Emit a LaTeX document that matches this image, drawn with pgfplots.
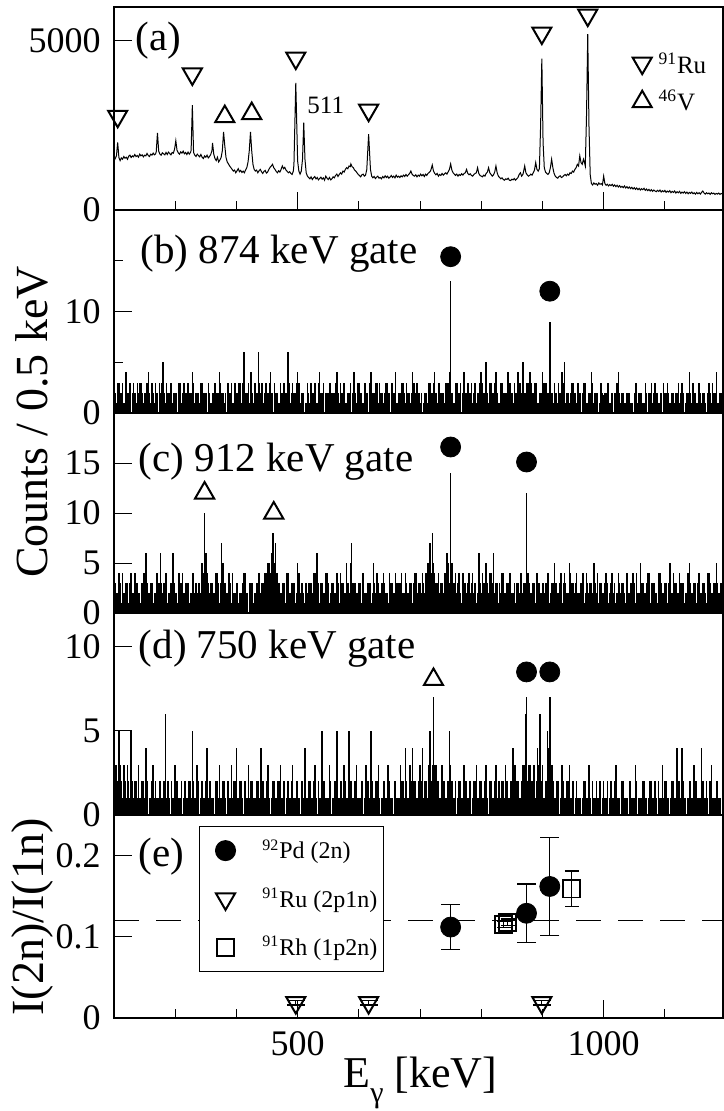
\documentclass[border=0pt]{standalone}
\usepackage{fontspec}
\setmainfont{Liberation Serif}
\usepackage{pgfplots}
\pgfplotsset{compat=1.18}
\newcommand{\plf}{\fontsize{20.5}{22}\selectfont}
\newcommand{\lgf}{\fontsize{12}{14}\selectfont}
\pgfplotsset{
  panel/.style={
    scale only axis, width=304.5pt,
    xmin=200, xmax=1195,
    axis line style={line width=1pt},
    tick align=inside, xtick pos=left, ytick pos=left,
    xtick={500,1000}, minor xtick={300,400,600,700,800,900,1100},
    xticklabels={},
    major tick length=9pt, minor tick length=4.5pt,
    every tick/.style={black, line width=0.5pt},
    tick label style={font=\fontsize{18}{19}\selectfont},
    yticklabel style={inner sep=0pt, xshift=-6.5pt},
    xticklabel style={inner sep=0pt, yshift=-6.5pt},
    /pgf/number format/assume math mode=true,
    /pgf/number format/1000 sep={},
  },
  comb/.style={black, ycomb, line width=0.75pt, forget plot},
}
\begin{document}
\begin{tikzpicture}
% ---------------- (a)
\begin{axis}[panel, at={(0,0)}, anchor=north west, height=101.5pt,
  ymin=0, ymax=6000, ytick={0,5000}]
\addplot[black, line width=0.5pt] coordinates {
(200,1450)(202,1520)(204,1600)(206,2000)(208,1550)(210,1460)(212,1540)(214,1500)(216,1580)(218,1530)(220,1560)(222,1500)(224,1590)(226,1620)(228,1550)(230,1600)(232,1570)(234,1640)(236,1580)(238,1610)(240,1560)(242,1650)(244,1600)(246,1630)(248,1570)(250,1620)(252,1600)(254,1670)(256,1610)(258,1580)(260,1650)(262,1620)(264,1680)(266,1630)(268,1660)(269,1720)(271,2280)(273,1740)(275,1650)(277,1620)(279,1690)(281,1660)(283,1630)(285,1700)(287,1640)(289,1710)(291,1670)(293,1630)(295,1700)(297,1680)(299,1800)(301,2050)(303,1760)(305,1690)(307,1650)(309,1720)(311,1680)(313,1740)(315,1660)(317,1700)(319,1640)(321,1710)(323,1650)(325,1700)(326,1760)(328,3100)(330,1700)(332,1620)(334,1580)(336,1650)(338,1610)(340,1570)(342,1640)(344,1560)(346,1520)(348,1600)(350,1560)(352,1620)(354,1540)(356,1580)(358,1640)(360,1750)(361,1980)(363,1650)(365,1520)(367,1460)(369,1560)(371,1420)(373,1480)(375,1550)(377,1750)(379,2310)(381,1900)(383,1550)(385,1420)(387,1360)(389,1300)(391,1250)(393,1200)(395,1150)(397,1180)(399,1100)(401,1160)(403,1220)(405,1130)(407,1170)(409,1110)(411,1150)(413,1100)(415,1180)(417,1250)(419,1420)(421,1750)(423,2310)(425,1750)(427,1350)(429,1200)(431,1150)(433,1180)(435,1100)(437,1160)(439,1200)(441,1130)(443,1080)(445,1140)(447,1170)(449,1090)(451,1120)(453,1200)(455,1260)(457,1300)(459,1350)(461,1250)(463,1200)(465,1140)(467,1100)(469,1160)(471,1120)(473,1200)(475,1300)(477,1220)(479,1260)(481,1180)(483,1140)(485,1100)(487,1130)(489,1080)(491,1050)(493,1150)(494,1350)(497,3760)(500,1450)(502,1150)(504,1060)(506,1150)(508,1500)(510,2580)(512,1500)(514,1100)(516,1000)(518,960)(520,920)(522,980)(524,900)(526,950)(528,990)(530,920)(532,960)(534,890)(536,930)(538,970)(540,910)(542,950)(544,880)(546,1000)(548,940)(550,900)(552,960)(554,890)(556,920)(558,980)(560,950)(562,1020)(564,1060)(566,990)(568,1050)(570,1100)(572,1060)(574,1150)(576,1120)(578,1200)(580,1250)(582,1220)(584,1300)(586,1280)(587,1360)(589,1280)(591,1250)(593,1180)(595,1150)(597,1100)(599,1050)(601,1020)(603,980)(605,1040)(607,1060)(609,1000)(611,1030)(613,1200)(616,2240)(619,1200)(621,1000)(623,950)(625,990)(627,930)(629,970)(631,1000)(633,940)(635,960)(637,920)(639,990)(641,950)(643,1010)(645,960)(647,1000)(649,940)(651,970)(653,1020)(655,960)(657,1000)(659,950)(661,1030)(663,970)(665,1000)(667,960)(669,1010)(671,980)(673,1030)(675,990)(677,1050)(679,1000)(681,1040)(683,1080)(685,1150)(687,1060)(689,1020)(691,1000)(693,1040)(695,980)(697,1030)(699,1000)(701,1060)(703,1010)(705,1050)(707,990)(709,1060)(711,1020)(713,1080)(715,1110)(717,1150)(718,1200)(720,1330)(722,1150)(724,1080)(726,1040)(728,1080)(730,1000)(732,1050)(734,1020)(736,1080)(738,1030)(740,1070)(742,1100)(744,1060)(746,1130)(748,1200)(750,1360)(752,1180)(754,1100)(756,1060)(758,1020)(760,1060)(762,1000)(764,1050)(766,1020)(768,1070)(770,1030)(772,1080)(774,1100)(776,1200)(778,1080)(780,1040)(782,1070)(784,1020)(786,1000)(788,1050)(790,1080)(792,1100)(794,1250)(796,1080)(798,1020)(800,1000)(802,980)(804,1030)(806,1000)(808,1080)(810,1120)(812,1250)(814,1100)(816,1050)(818,1000)(820,1040)(822,1120)(824,1300)(826,1100)(828,1000)(830,960)(832,920)(834,950)(836,900)(838,880)(840,920)(842,900)(844,940)(846,880)(848,870)(850,910)(852,890)(854,930)(856,880)(858,920)(860,960)(862,1050)(864,1100)(866,1000)(868,1050)(869,1120)(871,1300)(873,1100)(875,1040)(877,1000)(879,1020)(881,1060)(883,1030)(885,1100)(887,1180)(889,1400)(891,1200)(893,1150)(895,1220)(897,2500)(899,4470)(901,2000)(903,1250)(905,1120)(907,1080)(909,1050)(911,1100)(913,1250)(915,1500)(917,1250)(919,1080)(921,1000)(923,960)(925,940)(927,990)(929,1010)(931,960)(933,980)(935,1020)(937,1050)(939,1010)(941,1060)(943,1030)(945,1100)(947,1080)(949,1150)(951,1120)(953,1200)(955,1250)(957,1350)(959,1300)(961,1600)(963,1400)(965,1350)(967,1500)(969,1380)(970,1300)(972,2800)(974,5200)(976,2500)(978,1050)(980,780)(982,740)(984,800)(986,760)(988,780)(990,730)(992,800)(994,760)(996,780)(998,740)(1000,1000)(1002,780)(1004,730)(1006,760)(1008,710)(1010,750)(1012,720)(1014,760)(1016,700)(1018,740)(1020,690)(1022,730)(1024,680)(1026,720)(1028,670)(1030,700)(1032,660)(1034,710)(1036,650)(1038,690)(1040,640)(1042,680)(1044,630)(1046,670)(1048,620)(1050,660)(1052,610)(1054,650)(1056,600)(1058,640)(1060,590)(1062,630)(1064,600)(1066,640)(1068,580)(1070,620)(1072,570)(1074,610)(1076,560)(1078,600)(1080,550)(1082,590)(1084,560)(1086,540)(1088,580)(1090,550)(1092,590)(1094,530)(1096,570)(1098,540)(1100,580)(1102,520)(1104,560)(1106,530)(1108,570)(1110,510)(1112,550)(1114,520)(1116,560)(1118,500)(1120,540)(1122,510)(1124,550)(1126,490)(1128,530)(1130,500)(1132,540)(1134,490)(1136,530)(1138,480)(1140,520)(1142,490)(1144,530)(1146,480)(1148,510)(1150,470)(1152,520)(1154,480)(1156,510)(1158,470)(1160,520)(1162,560)(1164,500)(1166,470)(1168,510)(1170,480)(1172,500)(1174,460)(1176,510)(1178,480)(1180,500)(1182,460)(1184,490)(1186,470)(1188,500)(1190,460)(1192,490)(1194,470)(1196,480)};
\addplot[black, only marks, mark=triangle, mark size=5.5pt, line width=1pt, mark options={rotate=180}]
  coordinates {(206,2770)(328,4020)(497,4490)(616,2950)(899,5230)(974,5760)(1063,4340)};
\addplot[black, only marks, mark=triangle, mark size=5.5pt, line width=1pt]
  coordinates {(381,2760)(425,2850)(1063,3200)};
\node[anchor=west, inner sep=0pt, font=\fontsize{12.5}{14}\selectfont] at (axis cs:1089,4336) {\textsuperscript{91}Ru};
\node[anchor=west, inner sep=0pt, font=\fontsize{12.5}{14}\selectfont] at (axis cs:1089,3241) {\textsuperscript{46}V};
\node[font=\fontsize{12.5}{14}\selectfont] at (axis cs:546,3100) {511};
\node[anchor=west, inner sep=0pt, font=\plf] at (axis cs:235,5000) {(a)};
\end{axis}
% ---------------- (b)
\begin{axis}[panel, at={(0,-101.5pt)}, anchor=north west, height=101.5pt,
  ymin=0, ymax=20, ytick={0,10}, minor ytick={5,15}]
\addplot[comb] coordinates {
(200,2)(204,1)(208,3)(212,2)(216,1)(220,4)(224,2)(228,0)(232,3)(236,1)
(240,2)(244,3)(248,1)(252,2)(256,4)(260,1)(264,2)(268,3)(272,0)(276,2)
(280,5)(284,1)(288,2)(292,3)(296,1)(300,2)(304,0)(308,3)(312,2)(316,1)
(320,3)(324,2)(328,4)(332,1)(336,2)(340,1)(344,3)(348,2)(352,0)(356,2)
(360,1)(364,3)(368,2)(372,4)(376,2)(380,1)(384,0)(388,2)(392,3)(396,1)
(400,2)(404,3)(408,1)(412,6)(416,2)(420,3)(424,4)(428,1)(432,2)(436,6)
(440,2)(444,1)(448,3)(452,2)(456,4)(460,0)(464,2)(468,1)(472,3)(476,2)
(480,2)(484,6)(488,1)(492,3)(496,2)(500,4)(504,1)(508,2)(512,0)(516,3)
(520,1)(524,2)(528,3)(532,1)(536,4)(540,2)(544,0)(548,1)(552,3)(556,2)
(560,2)(564,4)(568,1)(572,2)(576,3)(580,1)(584,2)(588,0)(592,4)(596,1)
(600,3)(604,2)(608,1)(612,2)(616,0)(620,4)(624,2)(628,3)(632,1)(636,2)
(640,1)(644,3)(648,2)(652,0)(656,2)(660,4)(664,1)(668,2)(672,3)(676,1)
(680,2)(684,1)(688,4)(692,2)(696,3)(700,1)(704,0)(708,2)(712,1)(716,3)
(720,2)(724,4)(728,1)(732,3)(736,2)(740,1)(744,3)(748,4)(752,2)(756,1)
(760,3)(764,2)(768,0)(772,4)(776,2)(780,1)(784,3)(788,2)(792,1)(796,2)
(800,4)(804,2)(808,5)(812,1)(816,3)(820,2)(824,4)(828,1)(832,3)(836,2)
(840,2)(844,4)(848,3)(852,1)(856,2)(860,4)(864,3)(868,5)(872,2)(876,3)
(880,4)(884,2)(888,3)(892,1)(896,2)(900,4)(904,3)(908,2)(912,1)(916,2)
(920,3)(924,1)(928,2)(932,4)(936,5)(940,2)(944,1)(948,3)(952,2)(956,1)
(960,2)(964,0)(968,3)(972,1)(976,2)(980,4)(984,1)(988,2)(992,0)(996,3)
(1000,1)(1004,2)(1008,3)(1012,1)(1016,0)(1020,2)(1024,4)(1028,1)(1032,2)(1036,1)
(1040,2)(1044,1)(1048,0)(1052,3)(1056,1)(1060,2)(1064,1)(1068,3)(1072,0)(1076,2)
(1080,1)(1084,3)(1088,2)(1092,1)(1096,0)(1100,2)(1104,3)(1108,1)(1112,2)(1116,1)
(1120,2)(1124,1)(1128,3)(1132,0)(1136,2)(1140,4)(1144,1)(1148,2)(1152,1)(1156,3)
(1160,1)(1164,2)(1168,0)(1172,3)(1176,1)(1180,2)(1184,4)(1188,1)(1192,2)(1196,1)
(750,13)(912,9)};
\addplot[comb] coordinates {
(202,2)(206,3)(210,2)(214,3)(218,1)(222,2)(226,3)(230,2)(234,2)(238,3)
(242,3)(246,2)(250,2)(254,3)(258,2)(262,3)(266,1)(270,2)(274,3)(278,3)
(282,2)(286,3)(290,2)(294,3)(298,2)(302,2)(306,3)(310,1)(314,3)(318,2)
(322,3)(326,2)(330,3)(334,2)(338,2)(342,3)(346,2)(350,2)(354,3)(358,1)
(362,2)(366,3)(370,2)(374,3)(378,2)(382,2)(386,3)(390,2)(394,1)(398,3)
(402,2)(406,3)(410,3)(414,2)(418,2)(422,1)(426,2)(430,3)(434,2)(438,3)
(442,3)(446,2)(450,2)(454,3)(458,2)(462,3)(466,2)(470,1)(474,2)(478,3)
(482,2)(486,3)(490,2)(494,2)(498,3)(502,3)(506,2)(510,2)(514,1)(518,2)
(522,3)(526,2)(530,1)(534,3)(538,2)(542,3)(546,2)(550,2)(554,3)(558,2)
(562,3)(566,2)(570,3)(574,2)(578,1)(582,2)(586,3)(590,2)(594,2)(598,3)
(602,2)(606,1)(610,3)(614,2)(618,3)(622,2)(626,2)(630,3)(634,3)(638,2)
(642,2)(646,3)(650,2)(654,3)(658,2)(662,1)(666,2)(670,3)(674,2)(678,3)
(682,2)(686,2)(690,3)(694,3)(698,2)(702,2)(706,1)(710,2)(714,3)(718,2)
(722,3)(726,2)(730,3)(734,2)(738,2)(742,3)(746,3)(750,2)(754,1)(758,3)
(762,2)(766,3)(770,2)(774,2)(778,3)(782,2)(786,1)(790,3)(794,2)(798,3)
(802,3)(806,2)(810,2)(814,3)(818,2)(822,3)(826,2)(830,1)(834,3)(838,2)
(842,2)(846,3)(850,2)(854,3)(858,2)(862,3)(866,2)(870,2)(874,3)(878,2)
(882,3)(886,2)(890,3)(894,1)(898,2)(902,3)(906,3)(910,2)(914,2)(918,1)
(922,2)(926,3)(930,2)(934,3)(938,1)(942,2)(946,2)(950,3)(954,2)(958,3)
(962,2)(966,2)(970,3)(974,1)(978,2)(982,3)(986,2)(990,2)(994,1)(998,2)
(1002,2)(1006,3)(1010,1)(1014,2)(1018,2)(1022,3)(1026,2)(1030,2)(1034,1)(1038,2)
(1042,2)(1046,1)(1050,2)(1054,3)(1058,2)(1062,2)(1066,1)(1070,2)(1074,2)(1078,3)
(1082,2)(1086,2)(1090,1)(1094,2)(1098,3)(1102,2)(1106,2)(1110,1)(1114,2)(1118,2)
(1122,3)(1126,2)(1130,2)(1134,1)(1138,2)(1142,2)(1146,3)(1150,2)(1154,1)(1158,2)
(1162,2)(1166,1)(1170,2)(1174,2)(1178,3)(1182,2)(1186,1)(1190,2)(1194,2)(1198,3)};
\addplot[black, only marks, mark=*, mark size=5pt] coordinates {(750,15.4)(912,12)};
\node[anchor=west, inner sep=0pt, font=\plf] at (axis cs:243,15.7) {(b) 874 keV gate};
\end{axis}
% ---------------- (c)
\begin{axis}[panel, at={(0,-203pt)}, anchor=north west, height=100pt,
  ymin=0, ymax=20, ytick={0,5,10,15}]
\addplot[comb] coordinates {
(200,3)(204,2)(208,4)(212,1)(216,2)(220,3)(224,1)(228,4)(232,2)(236,3)
(240,2)(244,1)(248,4)(252,6)(256,2)(260,3)(264,1)(268,2)(272,3)(276,6)
(280,2)(284,4)(288,1)(292,3)(296,6)(300,2)(304,1)(308,3)(312,4)(316,2)
(320,3)(324,1)(328,4)(332,2)(336,2)(340,3)(344,5)(348,10)(352,4)(356,2)
(360,3)(364,2)(368,4)(372,1)(376,7)(380,3)(384,2)(388,4)(392,1)(396,2)
(400,3)(404,1)(408,2)(412,4)(416,2)(420,0)(424,3)(428,1)(432,2)(436,4)
(440,2)(444,3)(448,4)(452,5)(456,4)(460,8)(464,7)(468,3)(472,2)(476,3)
(480,1)(484,4)(488,2)(492,3)(496,1)(500,5)(504,2)(508,3)(512,1)(516,2)
(520,3)(524,2)(528,4)(532,6)(536,1)(540,3)(544,2)(548,4)(552,1)(556,3)
(560,2)(564,4)(568,1)(572,3)(576,2)(580,5)(584,2)(588,7)(592,3)(596,2)
(600,3)(604,1)(608,4)(612,2)(616,3)(620,1)(624,5)(628,2)(632,3)(636,2)
(640,4)(644,2)(648,1)(652,3)(656,2)(660,4)(664,1)(668,3)(672,2)(676,4)
(680,2)(684,3)(688,1)(692,4)(696,2)(700,3)(704,4)(708,2)(712,5)(716,7)
(720,8)(724,4)(728,3)(732,2)(736,3)(740,4)(744,6)(748,3)(752,5)(756,3)
(760,2)(764,4)(768,1)(772,3)(776,2)(780,4)(784,3)(788,2)(792,1)(796,6)
(800,2)(804,3)(808,5)(812,2)(816,4)(820,6)(824,3)(828,1)(832,2)(836,4)
(840,2)(844,3)(848,4)(852,2)(856,1)(860,3)(864,4)(868,2)(872,3)(876,4)
(880,2)(884,3)(888,1)(892,4)(896,2)(900,3)(904,2)(908,4)(912,1)(916,3)
(920,5)(924,2)(928,3)(932,1)(936,4)(940,2)(944,5)(948,3)(952,2)(956,4)
(960,2)(964,3)(968,1)(972,4)(976,2)(980,3)(984,5)(988,2)(992,1)(996,3)
(1000,2)(1004,4)(1008,1)(1012,3)(1016,2)(1020,1)(1024,4)(1028,2)(1032,3)(1036,1)
(1040,2)(1044,3)(1048,4)(1052,1)(1056,2)(1060,5)(1064,3)(1068,2)(1072,4)(1076,1)
(1080,3)(1084,2)(1088,1)(1092,4)(1096,2)(1100,3)(1104,1)(1108,5)(1112,2)(1116,3)
(1120,2)(1124,4)(1128,3)(1132,1)(1136,2)(1140,5)(1144,2)(1148,3)(1152,1)(1156,4)
(1160,2)(1164,3)(1168,1)(1172,4)(1176,2)(1180,3)(1184,5)(1188,2)(1192,3)(1196,2)
(750,14)(874,12)};
\addplot[comb] coordinates {
(202,3)(206,2)(210,3)(214,4)(218,2)(222,3)(226,3)(230,2)(234,4)(238,3)
(242,2)(246,3)(250,4)(254,3)(258,2)(262,3)(266,2)(270,4)(274,3)(278,3)
(282,3)(286,4)(290,2)(294,3)(298,3)(302,2)(306,4)(310,3)(314,2)(318,3)
(322,3)(326,2)(330,4)(334,3)(338,3)(342,2)(346,4)(350,6)(354,3)(358,3)
(362,2)(366,4)(370,3)(374,3)(378,5)(382,3)(386,2)(390,3)(394,4)(398,2)
(402,3)(406,2)(410,3)(414,4)(418,2)(422,3)(426,3)(430,2)(434,3)(438,4)
(442,3)(446,4)(450,3)(454,5)(458,6)(462,5)(466,4)(470,3)(474,2)(478,3)
(482,4)(486,2)(490,3)(494,3)(498,2)(502,4)(506,3)(510,2)(514,3)(518,3)
(522,3)(526,4)(530,2)(534,3)(538,3)(542,2)(546,4)(550,3)(554,2)(558,3)
(562,2)(566,3)(570,4)(574,3)(578,2)(582,3)(586,5)(590,3)(594,3)(598,2)
(602,3)(606,4)(610,2)(614,3)(618,3)(622,2)(626,3)(630,4)(634,2)(638,3)
(642,3)(646,2)(650,4)(654,3)(658,2)(662,3)(666,3)(670,4)(674,2)(678,3)
(682,2)(686,3)(690,3)(694,4)(698,3)(702,2)(706,3)(710,4)(714,5)(718,4)
(722,5)(726,3)(730,4)(734,3)(738,2)(742,4)(746,5)(750,3)(754,3)(758,4)
(762,3)(766,2)(770,4)(774,3)(778,3)(782,2)(786,4)(790,3)(794,2)(798,3)
(802,4)(806,3)(810,3)(814,4)(818,3)(822,2)(826,3)(830,3)(834,4)(838,2)
(842,3)(846,4)(850,2)(854,3)(858,3)(862,2)(866,4)(870,3)(874,5)(878,3)
(882,2)(886,3)(890,4)(894,3)(898,2)(902,3)(906,3)(910,4)(914,2)(918,3)
(922,3)(926,2)(930,4)(934,3)(938,3)(942,2)(946,4)(950,3)(954,3)(958,2)
(962,3)(966,4)(970,2)(974,3)(978,3)(982,2)(986,3)(990,4)(994,3)(998,2)
(1002,3)(1006,3)(1010,2)(1014,4)(1018,3)(1022,2)(1026,3)(1030,3)(1034,2)(1038,4)
(1042,2)(1046,3)(1050,3)(1054,4)(1058,2)(1062,3)(1066,2)(1070,3)(1074,4)(1078,3)
(1082,3)(1086,2)(1090,4)(1094,3)(1098,2)(1102,3)(1106,3)(1110,2)(1114,4)(1118,3)
(1122,2)(1126,3)(1130,3)(1134,2)(1138,4)(1142,3)(1146,2)(1150,3)(1154,3)(1158,2)
(1162,3)(1166,2)(1170,4)(1174,3)(1178,2)(1182,3)(1186,3)(1190,2)(1194,3)(1198,2)};
\addplot[black, only marks, mark=*, mark size=5pt] coordinates {(750,16.6)(874,15.1)};
\addplot[black, only marks, mark=triangle, mark size=5.5pt, line width=1pt] coordinates {(348,12.0)(461,10.0)};
\node[anchor=west, inner sep=0pt, font=\plf] at (axis cs:240,15.1) {(c) 912 keV gate};
\end{axis}
% ---------------- (d)
\begin{axis}[panel, at={(0,-303pt)}, anchor=north west, height=101pt,
  ymin=0, ymax=12, ytick={0,5,10}]
\addplot[comb] coordinates {
(200,5)(204,3)(208,5)(212,2)(216,3)(220,1)(224,2)(228,5)(232,1)(236,2)
(240,3)(244,1)(248,2)(252,4)(256,0)(260,1)(264,3)(268,2)(272,1)(276,2)
(280,1)(284,6)(288,2)(292,0)(296,1)(300,3)(304,2)(308,1)(312,0)(316,2)
(320,1)(324,2)(328,5)(332,1)(336,3)(340,0)(344,2)(348,1)(352,4)(356,2)
(360,1)(364,0)(368,2)(372,3)(376,1)(380,2)(384,0)(388,1)(392,3)(396,2)
(400,4)(404,1)(408,2)(412,0)(416,1)(420,3)(424,2)(428,1)(432,0)(436,2)
(440,4)(444,2)(448,1)(452,3)(456,0)(460,2)(464,1)(468,2)(472,3)(476,1)
(480,0)(484,2)(488,1)(492,3)(496,1)(500,2)(504,0)(508,2)(512,4)(516,1)
(520,2)(524,1)(528,3)(532,0)(536,1)(540,5)(544,2)(548,1)(552,3)(556,0)
(560,2)(564,5)(568,1)(572,2)(576,3)(580,1)(584,5)(588,2)(592,1)(596,3)
(600,1)(604,2)(608,0)(612,3)(616,2)(620,5)(624,1)(628,2)(632,3)(636,0)
(640,2)(644,1)(648,3)(652,1)(656,0)(660,2)(664,1)(668,3)(672,2)(676,4)
(680,1)(684,3)(688,4)(692,2)(696,1)(700,3)(704,4)(708,2)(712,1)(716,5)
(720,3)(724,3)(728,2)(732,1)(736,3)(740,2)(744,1)(748,5)(752,2)(756,1)
(760,0)(764,2)(768,1)(772,3)(776,2)(780,1)(784,0)(788,2)(792,3)(796,1)
(800,2)(804,1)(808,3)(812,0)(816,2)(820,1)(824,3)(828,2)(832,1)(836,2)
(840,3)(844,1)(848,2)(852,4)(856,3)(860,2)(864,1)(868,3)(872,6)(876,2)
(880,3)(884,2)(888,1)(892,4)(896,6)(900,3)(904,1)(908,5)(912,2)(916,3)
(920,1)(924,2)(928,0)(932,3)(936,1)(940,2)(944,3)(948,1)(952,0)(956,2)
(960,1)(964,0)(968,2)(972,1)(976,3)(980,0)(984,1)(988,2)(992,1)(996,0)
(1000,2)(1004,1)(1008,0)(1012,2)(1016,1)(1020,3)(1024,1)(1028,0)(1032,2)(1036,1)
(1040,0)(1044,2)(1048,1)(1052,3)(1056,0)(1060,1)(1064,2)(1068,1)(1072,0)(1076,2)
(1080,1)(1084,2)(1088,0)(1092,1)(1096,3)(1100,2)(1104,1)(1108,0)(1112,2)(1116,1)
(1120,4)(1124,2)(1128,4)(1132,1)(1136,0)(1140,2)(1144,1)(1148,3)(1152,2)(1156,1)
(1160,4)(1164,1)(1168,2)(1172,0)(1176,3)(1180,1)(1184,2)(1188,1)(1192,0)(1196,2)
(722,7)(874,7)(912,7)};
\addplot[comb] coordinates {
(202,3)(206,2)(210,3)(214,1)(218,2)(222,3)(226,1)(230,2)(234,2)(238,1)
(242,1)(246,2)(250,1)(254,2)(258,1)(262,2)(266,1)(270,1)(274,2)(278,1)
(282,2)(286,1)(290,1)(294,2)(298,1)(302,2)(306,1)(310,2)(314,1)(318,1)
(322,2)(326,1)(330,2)(334,1)(338,2)(342,1)(346,1)(350,2)(354,1)(358,2)
(362,1)(366,2)(370,1)(374,1)(378,2)(382,1)(386,2)(390,1)(394,1)(398,2)
(402,1)(406,2)(410,1)(414,2)(418,1)(422,1)(426,2)(430,1)(434,2)(438,1)
(442,2)(446,1)(450,2)(454,1)(458,1)(462,2)(466,1)(470,2)(474,1)(478,2)
(482,1)(486,1)(490,2)(494,1)(498,2)(502,1)(506,2)(510,1)(514,1)(518,2)
(522,1)(526,2)(530,1)(534,2)(538,1)(542,2)(546,1)(550,1)(554,2)(558,1)
(562,2)(566,1)(570,2)(574,1)(578,2)(582,1)(586,2)(590,1)(594,2)(598,1)
(602,1)(606,2)(610,1)(614,2)(618,1)(622,2)(626,1)(630,2)(634,1)(638,1)
(642,2)(646,1)(650,2)(654,1)(658,2)(662,1)(666,1)(670,2)(674,1)(678,2)
(682,1)(686,2)(690,2)(694,1)(698,2)(702,2)(706,1)(710,2)(714,3)(718,2)
(722,4)(726,3)(730,2)(734,1)(738,2)(742,1)(746,2)(750,3)(754,1)(758,2)
(762,1)(766,2)(770,1)(774,2)(778,1)(782,2)(786,1)(790,2)(794,1)(798,2)
(802,1)(806,2)(810,1)(814,2)(818,1)(822,2)(826,1)(830,2)(834,2)(838,1)
(842,2)(846,1)(850,2)(854,3)(858,2)(862,1)(866,2)(870,3)(874,5)(878,3)
(882,2)(886,3)(890,2)(894,3)(898,2)(902,1)(906,2)(910,4)(914,2)(918,2)
(922,1)(926,2)(930,1)(934,2)(938,1)(942,2)(946,1)(950,2)(954,1)(958,1)
(962,1)(966,1)(970,2)(974,1)(978,1)(982,2)(986,1)(990,1)(994,2)(998,1)
(1002,1)(1006,2)(1010,1)(1014,1)(1018,2)(1022,1)(1026,1)(1030,2)(1034,1)(1038,1)
(1042,2)(1046,1)(1050,1)(1054,2)(1058,1)(1062,1)(1066,2)(1070,1)(1074,1)(1078,2)
(1082,1)(1086,1)(1090,2)(1094,1)(1098,1)(1102,2)(1106,1)(1110,1)(1114,2)(1118,1)
(1122,2)(1126,1)(1130,2)(1134,1)(1138,1)(1142,2)(1146,1)(1150,2)(1154,1)(1158,1)
(1162,2)(1166,1)(1170,1)(1174,2)(1178,1)(1182,1)(1186,2)(1190,1)(1194,1)(1198,2)};
\addplot[black, line width=0.5pt, forget plot] coordinates {(200,5)(228,5)};
\addplot[black, only marks, mark=*, mark size=5pt] coordinates {(874,8.5)(912,8.5)};
\addplot[black, only marks, mark=triangle, mark size=5.5pt, line width=1pt] coordinates {(722,8.05)};
\node[anchor=west, inner sep=0pt, font=\plf] at (axis cs:240,9.9) {(d) 750 keV gate};
\end{axis}
% ---------------- (e)
\begin{axis}[panel, at={(0,-404pt)}, anchor=north west, height=101.5pt,
  ymin=0, ymax=0.25, ytick={0,0.1,0.2}, xticklabels={500,1000},
  legend style={at={(0.14,0.946)}, anchor=north west, draw=black, line width=0.5pt, fill=white,
    font=\lgf, inner xsep=1pt, inner ysep=4.5pt, row sep=9pt},
  legend cell align=left,
  legend image code/.code={\path (0cm,0cm) (0.96cm,0cm); \draw[#1] plot coordinates {(0.4cm,0cm)};}]
\addplot[black, dash pattern=on 12.5pt off 8.5pt, line width=0.6pt, forget plot] coordinates {(200,0.12)(1200,0.12)};
\addplot[black, only marks, mark=*, mark size=5pt,
  error bars/.cd, y dir=both, y explicit,
  error bar style={line width=0.6pt, black},
  error mark options={rotate=90, mark size=4.75pt, line width=0.6pt, black}]
  coordinates {(750,0.112) +- (0,0.028) (874,0.129) +- (0,0.036) (912,0.162) +- (0,0.060)};
\addlegendentry{\textsuperscript{92}Pd (2n)}
\addplot[black, only marks, mark=triangle, mark size=5.5pt, line width=1pt, mark options={rotate=180},
  error bars/.cd, y dir=both, y explicit,
  error bar style={line width=0.6pt, black},
  error mark options={rotate=90, mark size=4.5pt, line width=0.6pt, black}]
  coordinates {(497,0.019) +- (0,0.003) (616,0.019) +- (0,0.003) (899,0.019) +- (0,0.003)};
\addlegendentry{\textsuperscript{91}Ru (2p1n)}
\addplot[black, only marks, mark=square, mark size=4.25pt, line width=0.9pt,
  error bars/.cd, y dir=both, y explicit,
  error bar style={line width=0.6pt, black},
  error mark options={rotate=90, mark size=3.5pt, line width=0.6pt, black}]
  coordinates {(837,0.115) +- (0,0.004) (843,0.118) +- (0,0.004) (948,0.159) +- (0,0.022)};
\addlegendentry{\textsuperscript{91}Rh (1p2n)}
\node[anchor=west, inner sep=0pt, font=\plf] at (axis cs:240,0.199) {(e)};
\end{axis}
% ---------------- axis labels
\node[rotate=90, font=\fontsize{23}{25}\selectfont] at (-41pt,-207.5pt) {Counts / 0.5 keV};
\node[rotate=90, font=\fontsize{23}{25}\selectfont] at (-41pt,-455pt) {I(2n)/I(1n)};
\node[anchor=base west, inner sep=0pt, font=\fontsize{22}{24}\selectfont] at (114.5pt,-540pt)
  {E\raisebox{-0.35em}{\fontsize{15}{15}\selectfont γ} [keV]};
\pgfresetboundingbox
\useasboundingbox (-57pt,3.5pt) rectangle (304.5pt,-552pt);
\end{tikzpicture}
\end{document}
